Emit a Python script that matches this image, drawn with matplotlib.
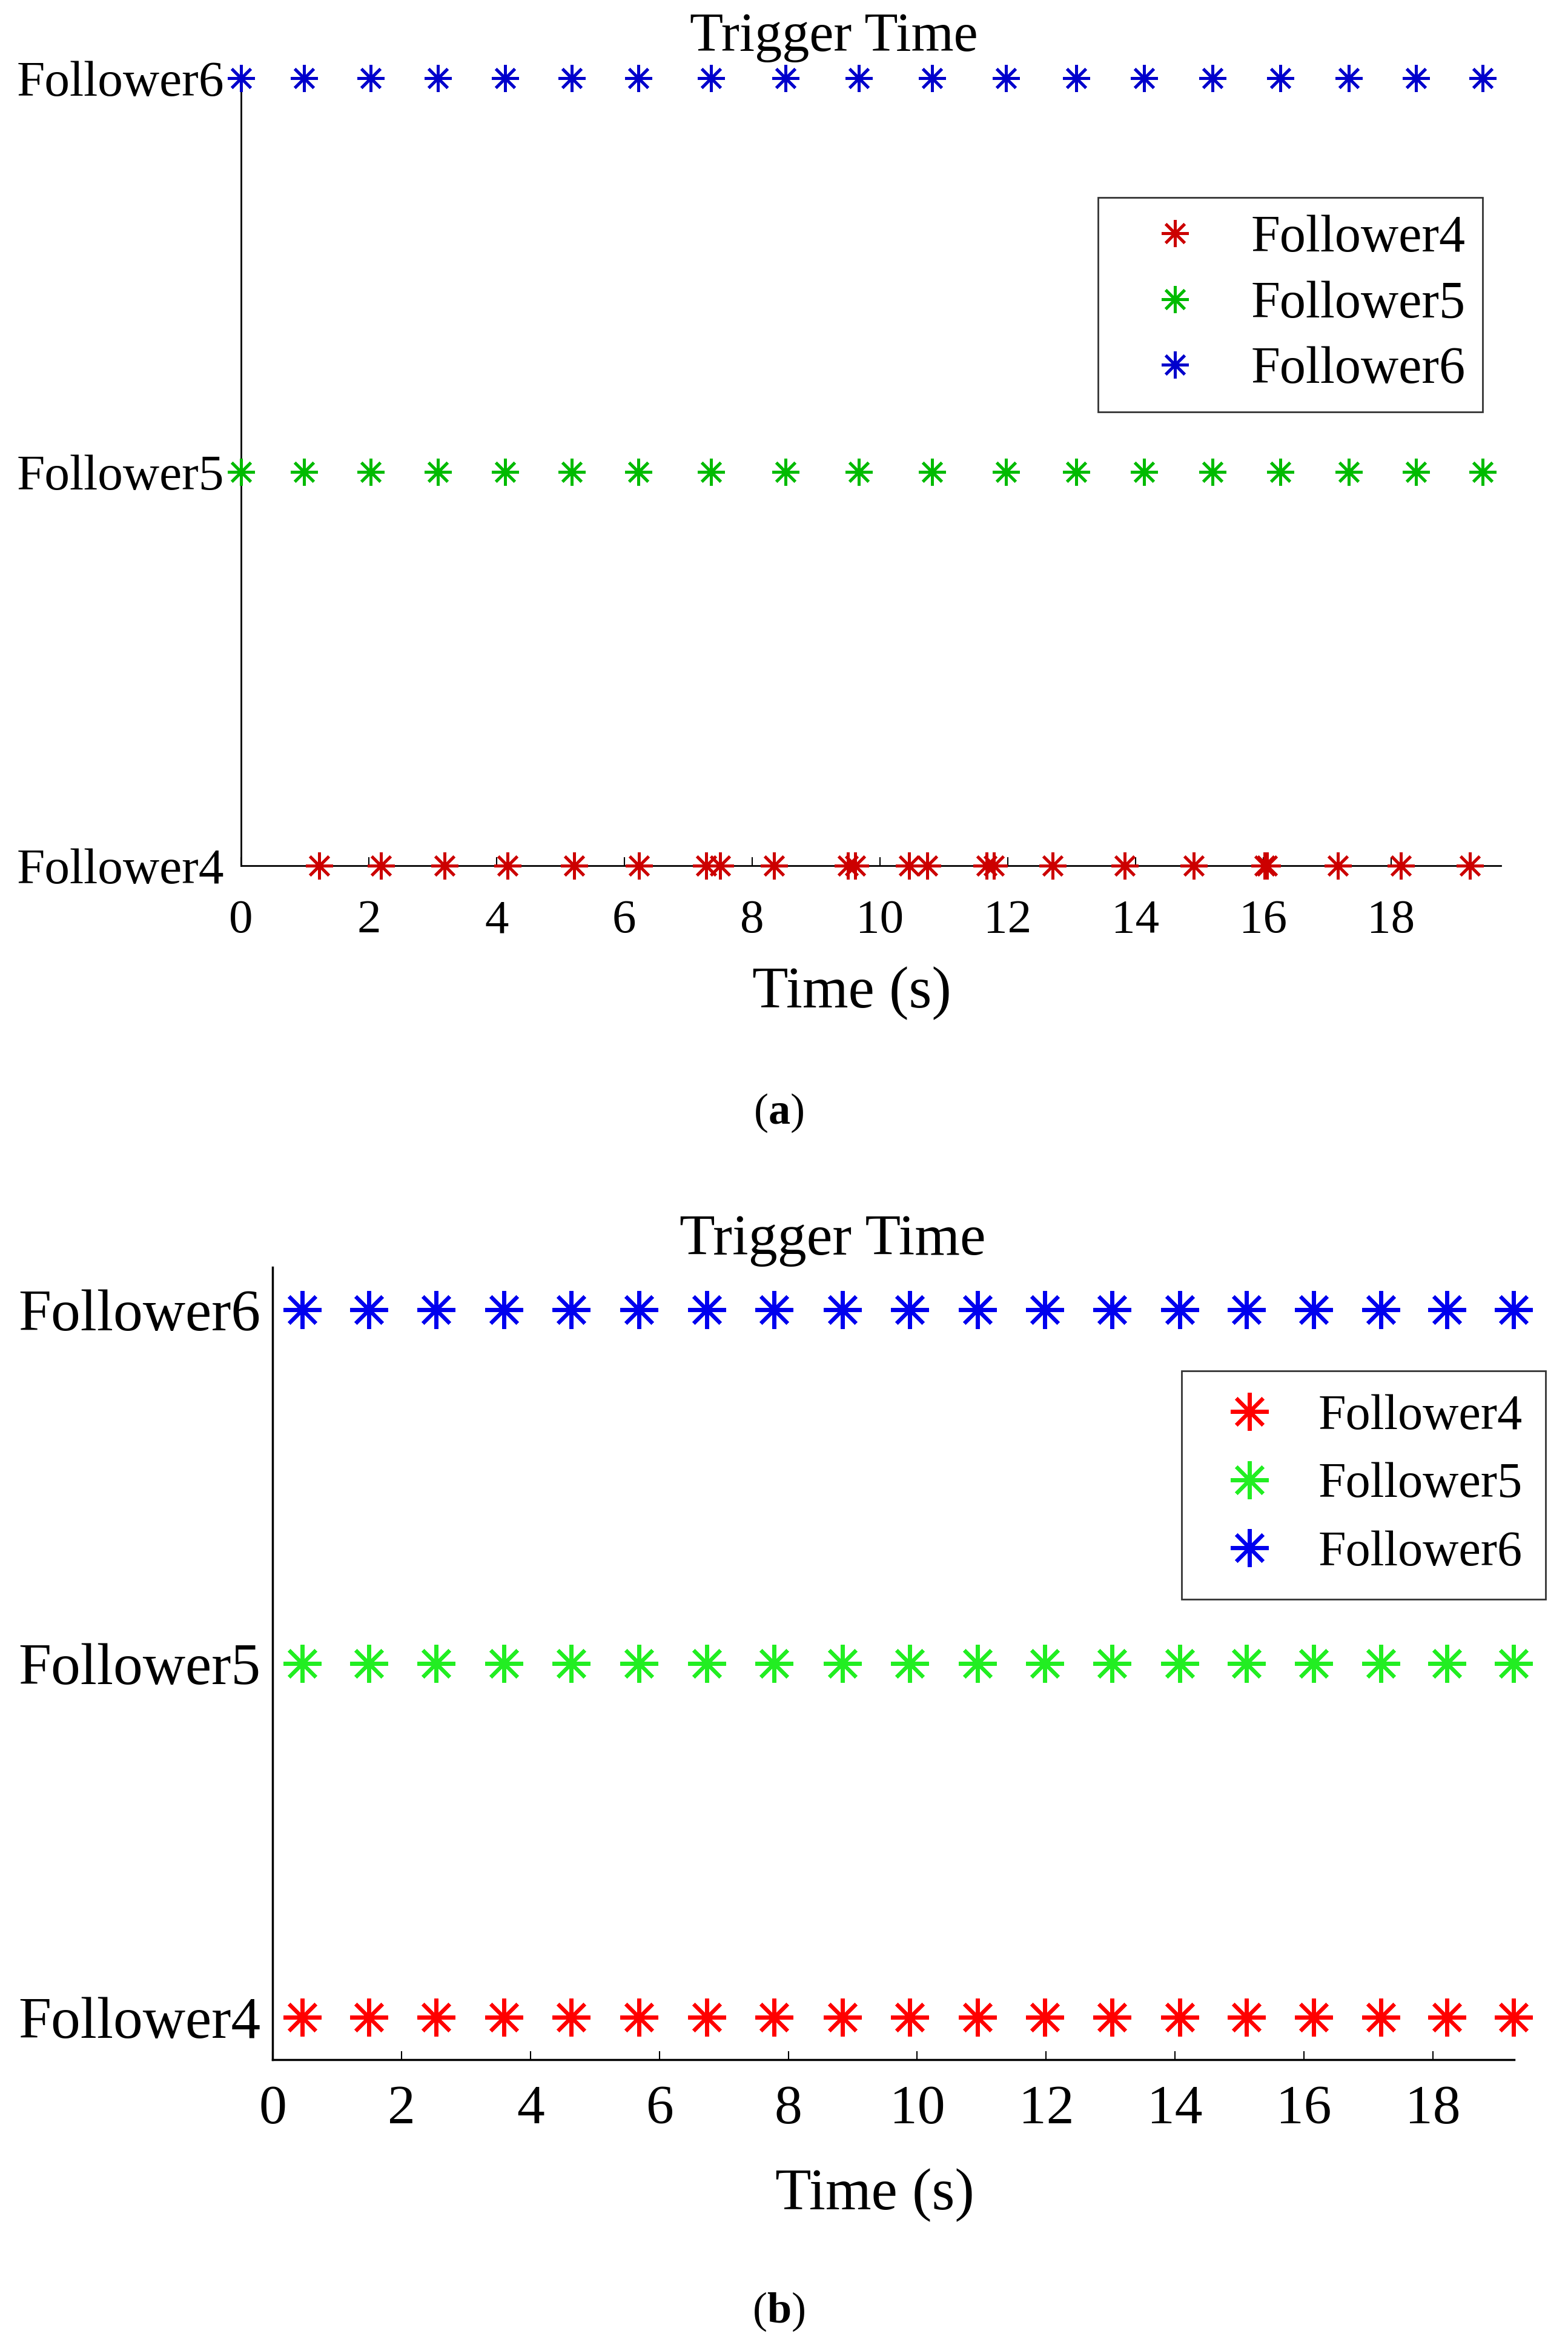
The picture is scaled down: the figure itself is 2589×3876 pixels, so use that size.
import matplotlib
matplotlib.use("Agg")
import matplotlib.pyplot as plt

# trigger instants (seconds)
follower4_a = [1.22, 2.19, 3.19, 4.17, 5.21, 6.23, 7.28, 7.50, 8.34, 9.50, 9.61, 10.46, 10.74,
               11.67, 11.78, 12.70, 13.83, 14.91, 16.02, 16.06, 17.17, 18.16, 19.24]
follower5_a = [0.0, 0.99, 2.03, 3.08, 4.13, 5.18, 6.22, 7.36, 8.52, 9.67, 10.82, 11.97, 13.07,
               14.14, 15.21, 16.27, 17.34, 18.39, 19.44]
follower6_a = [0.0, 0.99, 2.03, 3.08, 4.13, 5.18, 6.22, 7.36, 8.52, 9.67, 10.82, 11.97, 13.07,
               14.14, 15.21, 16.27, 17.34, 18.39, 19.44]

follower4_b = [0.46, 1.49, 2.54, 3.59, 4.63, 5.68, 6.74, 7.78, 8.84, 9.88, 10.94, 11.98, 13.02,
               14.07, 15.11, 16.15, 17.19, 18.22, 19.25]
follower5_b = [0.46, 1.49, 2.54, 3.59, 4.63, 5.68, 6.74, 7.78, 8.84, 9.88, 10.94, 11.98, 13.02,
               14.07, 15.11, 16.15, 17.19, 18.22, 19.25]
follower6_b = [0.46, 1.49, 2.54, 3.59, 4.63, 5.68, 6.74, 7.78, 8.84, 9.88, 10.94, 11.98, 13.02,
               14.07, 15.11, 16.15, 17.19, 18.22, 19.25]

names = ['Follower4', 'Follower5', 'Follower6']
levels = [4, 5, 6]
xticks = [0, 2, 4, 6, 8, 10, 12, 14, 16, 18]

plt.rcParams['font.family'] = ['Liberation Serif', 'DejaVu Serif']
plt.rcParams['mathtext.fontset'] = 'custom'
plt.rcParams['mathtext.rm'] = 'Liberation Serif'
plt.rcParams['mathtext.bf'] = 'Liberation Serif:bold'

W, H = 2589, 3876
fig = plt.figure(figsize=(W / 100, H / 100), dpi=100)

def px(x, y):
    return x / W, 1 - y / H

asterisk = (8, 2, 0)

# ---------- panel (a)
ax1 = fig.add_axes([398 / W, 1 - 1429 / H, 2080 / W, 1300 / H])
cols_a = ['#cc0000', '#00bb00', '#0000cc']
for data, c, n, lv in zip([follower4_a, follower5_a, follower6_a], cols_a, names, levels):
    ax1.plot(data, [lv] * len(data), linestyle='none', marker=asterisk, markersize=32,
             markeredgewidth=3.5, color=c, label=n, clip_on=False, zorder=3)
ax1.set_xlim(0, 19.72)
ax1.set_ylim(4, 6)
ax1.set_xticks(xticks)
ax1.set_yticks(levels)
ax1.set_yticklabels(names)
ax1.tick_params(axis='x', direction='in', length=10, width=1.5, labelsize=57, pad=40)
ax1.tick_params(axis='y', direction='in', length=0, labelsize=60, pad=20)
for s in ['top', 'right']:
    ax1.spines[s].set_visible(False)
for s in ['left', 'bottom']:
    ax1.spines[s].set_linewidth(2)
ax1.set_xlabel('Time (s)', fontsize=70, va='center')
ax1.xaxis.set_label_coords(0.485, -0.162)
leg1 = ax1.legend(loc='upper left', bbox_to_anchor=px(1813, 326), bbox_transform=fig.transFigure,
                  fontsize=62, frameon=True, fancybox=False, borderaxespad=0, borderpad=0.33,
                  handlelength=2.3, handletextpad=0.3, labelspacing=0.34)
leg1.get_frame().set_edgecolor('black')
leg1.get_frame().set_linewidth(2)
fig.text(*px(1377, 62), 'Trigger Time', fontsize=65, ha='center', va='center')
fig.text(*px(1286, 1837), r'($\mathbf{a}$)', fontsize=52, ha='center', va='center')

# ---------- panel (b)
ax2 = fig.add_axes([450 / W, 1 - 3400 / H, 2050 / W, 1308 / H])
cols_b = ['#ff0000', '#22ee22', '#0000ee']
for data, c, n, lv in zip([follower4_b, follower5_b, follower6_b], cols_b, names, levels):
    ax2.plot(data, [lv] * len(data), linestyle='none', marker=asterisk, markersize=45,
             markeredgewidth=4.5, color=c, label=n, clip_on=False, zorder=3)
ax2.set_xlim(0, 19.26)
ax2.set_ylim(3.88, 6.12)
ax2.set_xticks(xticks)
ax2.set_yticks(levels)
ax2.set_yticklabels(names)
ax2.tick_params(axis='x', direction='in', length=10, width=1.5, labelsize=66, pad=30)
ax2.tick_params(axis='y', direction='in', length=0, labelsize=70, pad=14)
for s in ['top', 'right']:
    ax2.spines[s].set_visible(False)
for s in ['left', 'bottom']:
    ax2.spines[s].set_linewidth(2.5)
ax2.set_xlabel('Time (s)', fontsize=70, va='center')
ax2.xaxis.set_label_coords(0.485, -0.171)
leg2 = ax2.legend(loc='upper left', bbox_to_anchor=px(1951, 2263), bbox_transform=fig.transFigure,
                  fontsize=59, frameon=True, fancybox=False, borderaxespad=0, borderpad=0.47,
                  handlelength=1.8, handletextpad=0.48, labelspacing=0.45)
leg2.get_frame().set_edgecolor('black')
leg2.get_frame().set_linewidth(2)
fig.text(*px(1375, 2048), 'Trigger Time', fontsize=69, ha='center', va='center')
fig.text(*px(1286, 3816), r'($\mathbf{b}$)', fontsize=52, ha='center', va='center')

fig.savefig('out.png', dpi=100)
